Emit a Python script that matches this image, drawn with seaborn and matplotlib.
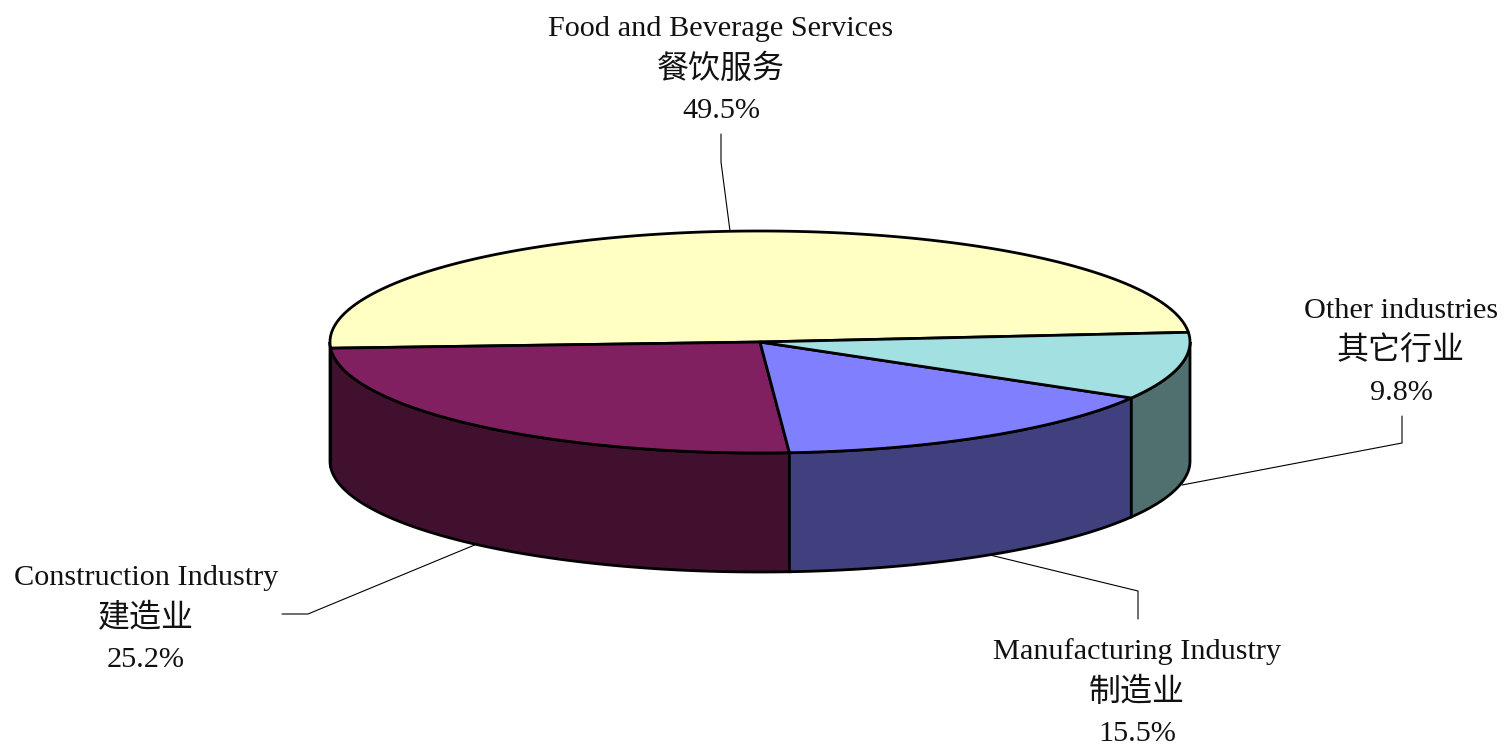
#!/usr/bin/env python3
"""Employment share by industry, drawn as a tilted 3D-look pie."""

import numpy as np
import matplotlib
matplotlib.use('Agg')
import matplotlib.pyplot as plt
import seaborn as sns

# -- Data ------------------------------------------------------
INDUSTRIES = ["Food and Beverage Services", "Construction Industry",
              "Manufacturing Industry", "Other industries"]
INDUSTRIES_ZH = ["餐饮服务", "建造业", "制造业", "其它行业"]
SHARES = [49.5, 25.2, 15.5, 9.8]
TOP_COLORS = ["#FFFFC4", "#802060", "#8080FF", "#A2E0E2"]
SIDE_COLORS = ["#80805F", "#40102E", "#40407F", "#50706F"]

# -- Layout, in picture pixels ---------------------------------
CX, CY = 760, 342
RX, RY = 430, 111
DEPTH = 119
START_ANGLE = 5.0

# label centre x, first line y, leader line points
LABEL_POS = [(721, 26), (146, 575), (1137, 649), (1401, 308)]
LEADERS = [
    [(721, 134), (721, 162), (730, 231)],
    [(282, 614), (308, 614), (477, 544)],
    [(1138, 619), (1138, 591), (990, 555)],
    [(1402, 416), (1402, 443), (1182, 485)],
]
LINE_OFFSETS = [3, 44, 85]
LINE_SIZES = [21.8, 23, 21.8]

sns.set_style("white")
plt.rcParams['font.family'] = ['Liberation Serif', 'Noto Sans CJK SC', 'DejaVu Sans']

fig = plt.figure(figsize=(15.04, 7.46), dpi=100)
ax = fig.add_axes([0, 0, 1, 1])
ax.set_xlim(0, 1504)
ax.set_ylim(746, 0)
ax.axis("off")


def rim(angles):
    """Points on the top ellipse for angles in degrees (counter-clockwise)."""
    t = np.radians(angles)
    return CX + RX * np.cos(t), CY - RY * np.sin(t)


# slice boundaries from the shares
sweeps = np.array(SHARES) / sum(SHARES) * 360
edges = START_ANGLE + np.concatenate([[0], np.cumsum(sweeps)])

# side walls: only the front half of the ellipse (180-360 deg) shows
for i in range(len(SHARES)):
    lo, hi = max(edges[i], 180), min(edges[i + 1], 360)
    if hi <= lo:
        continue
    a = np.linspace(lo, hi, 200)
    x, y = rim(a)
    ax.fill(np.r_[x, x[::-1]], np.r_[y, y[::-1] + DEPTH],
            facecolor=SIDE_COLORS[i], edgecolor="black", lw=2, zorder=2)

# top faces
for i in range(len(SHARES)):
    a = np.linspace(edges[i], edges[i + 1], 400)
    x, y = rim(a)
    ax.fill(np.r_[CX, x], np.r_[CY, y],
            facecolor=TOP_COLORS[i], edgecolor="black", lw=2,
            joinstyle="round", zorder=3)

# leader lines and labels
for i, name in enumerate(INDUSTRIES):
    xs, ys = zip(*LEADERS[i])
    ax.plot(xs, ys, color="black", lw=0.8, zorder=1 if i == 0 else 4)
    lx, ly = LABEL_POS[i]
    lines = [name, INDUSTRIES_ZH[i], f"{SHARES[i]:.1f}%"]
    for line, off, size in zip(lines, LINE_OFFSETS, LINE_SIZES):
        ax.text(lx, ly + off, line, ha="center", va="center",
                fontsize=size, color="#111111", zorder=5)

fig.savefig("out.png", dpi=100)
